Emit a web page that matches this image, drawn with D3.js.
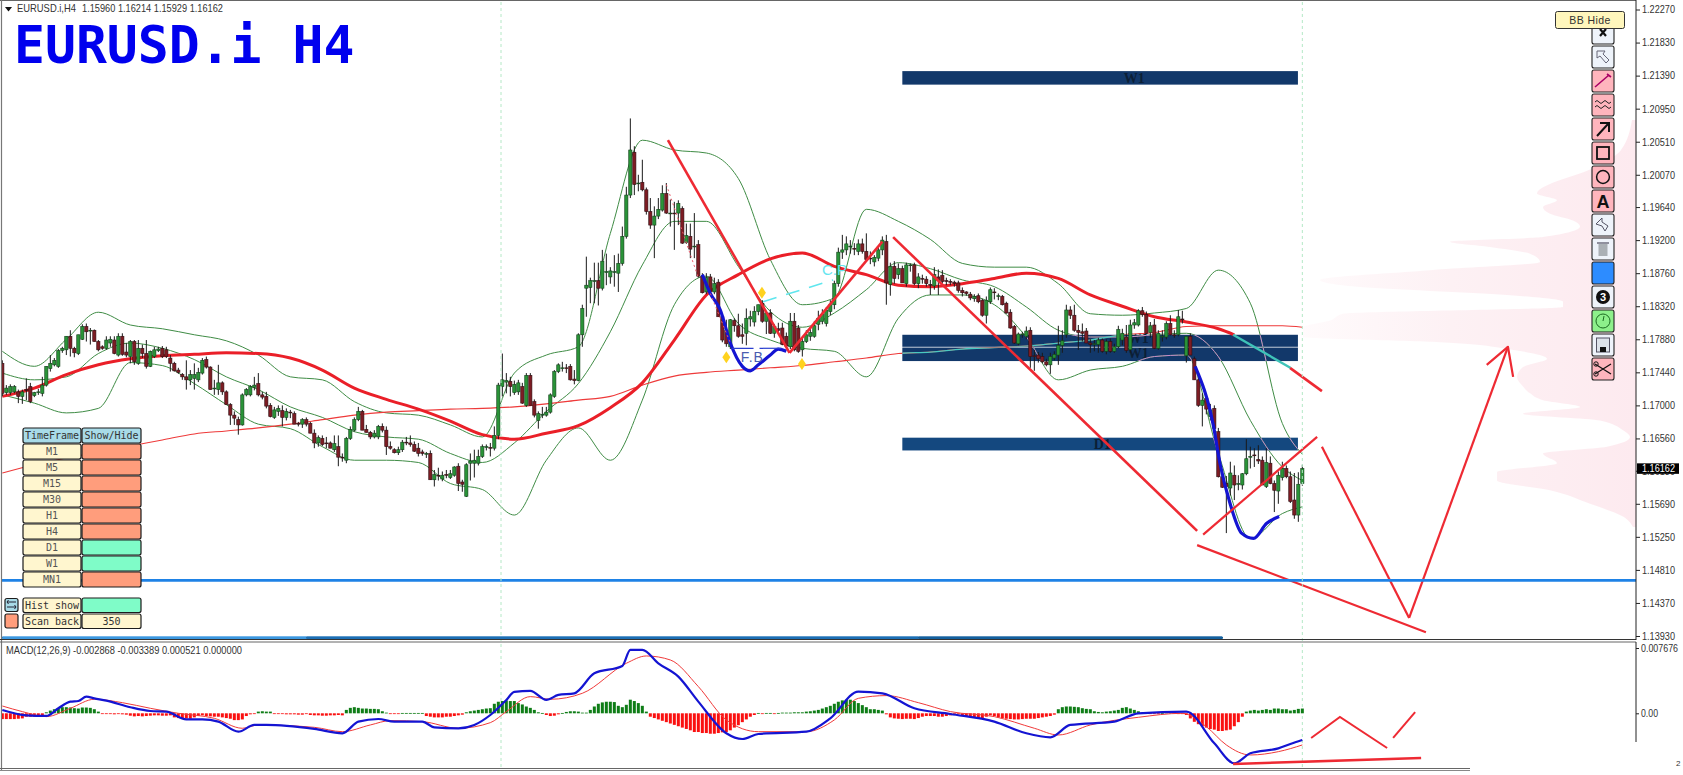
<!DOCTYPE html>
<html><head><meta charset="utf-8">
<script src="https://cdn.jsdelivr.net/npm/d3@7/dist/d3.min.js"></script>
<style>html,body{margin:0;padding:0;background:#fff;overflow:hidden}svg{display:block}</style>
</head><body><div id="c"></div>
<script>
// ---------- candles (price x 10000), bar 0 .. 325 ----------
const opens=[11756,11717,11717,11718,11718,11712,11721,11725,11713,11718,
11716,11727,11749,11754,11752,11773,11774,11792,11776,11769,
11788,11805,11800,11800,11785,11778,11776,11783,11787,11767,
11792,11771,11765,11785,11756,11776,11769,11752,11765,11773,
11776,11774,11763,11756,11747,11741,11738,11734,11736,11734,
11743,11761,11751,11722,11721,11730,11718,11701,11687,11681,
11674,11714,11714,11724,11729,11714,11712,11700,11684,11692,
11693,11684,11691,11689,11676,11675,11681,11676,11663,11650,
11656,11650,11650,11641,11645,11631,11627,11656,11667,11681,
11692,11668,11664,11658,11658,11672,11667,11645,11641,11637,
11641,11651,11650,11648,11643,11638,11636,11636,11601,11607,
11602,11608,11604,11607,11619,11598,11579,11623,11623,11623,
11632,11644,11644,11643,11660,11725,11731,11732,11717,11718,
11725,11700,11740,11705,11680,11688,11687,11691,11712,11745,
11749,11750,11752,11735,11733,11794,11856,11857,11866,11866,
11856,11878,11871,11878,11876,11889,11925,11980,12037,11995,
11997,11987,11958,11940,11952,11960,11982,11956,11956,11956,
11962,11917,11925,11911,11914,11872,11851,11871,11851,11864,
11818,11800,11778,11813,11806,11794,11796,11815,11811,11825,
11836,11812,11823,11796,11802,11803,11792,11778,11812,11803,
11774,11785,11792,11792,11808,11812,11809,11825,11834,11862,
11904,11907,11912,11909,11905,11915,11905,11896,11891,11896,
11907,11918,11861,11885,11874,11882,11862,11887,11887,11862,
11869,11868,11861,11859,11871,11873,11866,11865,11864,11863,
11853,11851,11848,11842,11846,11840,11820,11838,11851,11845,
11845,11836,11824,11805,11782,11795,11792,11800,11766,11767,
11765,11758,11754,11763,11767,11780,11794,11827,11820,11800,
11798,11799,11783,11782,11781,11787,11772,11785,11772,11778,
11787,11791,11774,11807,11807,11826,11821,11797,11807,11776,
11791,11791,11809,11794,11794,11815,11766,11792,11762,11734,
11700,11709,11685,11696,11665,11605,11596,11590,11607,11595,
11594,11609,11632,11634,11628,11627,11592,11623,11596,11586,
11604,11616,11605,11574,11554,11596];
const highs=[11760,11727,11728,11727,11721,11721,11736,11730,11718,11722,
11738,11752,11767,11763,11775,11778,11792,11800,11778,11794,
11808,11809,11803,11801,11787,11780,11792,11792,11792,11796,
11796,11783,11787,11787,11787,11781,11787,11773,11778,11778,
11779,11778,11767,11758,11750,11743,11760,11747,11756,11750,
11763,11765,11752,11734,11754,11732,11720,11703,11692,11685,
11716,11723,11727,11738,11743,11718,11718,11703,11698,11700,
11700,11696,11694,11692,11678,11683,11684,11678,11668,11660,
11660,11658,11652,11660,11660,11636,11658,11672,11684,11698,
11694,11674,11666,11667,11674,11676,11672,11652,11643,11645,
11654,11658,11660,11652,11650,11641,11638,11640,11614,11617,
11612,11614,11614,11619,11623,11601,11623,11636,11641,11641,
11648,11648,11650,11672,11730,11769,11743,11738,11733,11734,
11730,11743,11743,11708,11692,11698,11698,11716,11747,11756,
11758,11755,11755,11747,11796,11834,11898,11870,11890,11890,
11907,11902,11884,11900,11902,11938,11991,12082,12045,12007,
12027,11990,11976,11965,11976,11993,11996,11974,11971,11973,
11965,11942,11942,11956,11920,11876,11876,11875,11870,11868,
11822,11814,11815,11816,11822,11809,11829,11826,11832,11834,
11840,11825,11828,11808,11810,11810,11797,11823,11823,11807,
11790,11800,11802,11812,11826,11828,11831,11840,11866,11910,
11927,11925,11920,11916,11921,11922,11929,11905,11900,11912,
11925,11927,11890,11892,11889,11886,11890,11889,11890,11876,
11874,11872,11867,11884,11881,11880,11870,11868,11866,11866,
11857,11852,11851,11848,11849,11842,11845,11857,11856,11849,
11847,11838,11828,11807,11797,11798,11805,11804,11774,11771,
11770,11762,11770,11772,11806,11800,11834,11832,11834,11807,
11809,11803,11788,11787,11790,11789,11788,11789,11782,11806,
11802,11807,11814,11815,11828,11831,11825,11811,11815,11800,
11800,11812,11820,11800,11827,11826,11792,11796,11765,11738,
11716,11712,11702,11700,11670,11605,11606,11625,11620,11607,
11610,11655,11645,11643,11647,11632,11643,11632,11600,11612,
11625,11620,11612,11610,11611,11621];
const lows=[11712,11714,11714,11716,11703,11702,11707,11703,11711,11714,
11712,11725,11745,11752,11750,11770,11767,11765,11764,11767,
11787,11785,11781,11785,11772,11774,11774,11778,11768,11765,
11766,11764,11756,11754,11754,11763,11749,11751,11763,11771,
11763,11763,11745,11745,11742,11734,11721,11727,11721,11731,
11741,11749,11721,11714,11714,11714,11701,11674,11674,11661,
11673,11712,11712,11720,11712,11708,11696,11684,11682,11686,
11672,11680,11683,11675,11672,11670,11672,11663,11643,11645,
11646,11643,11643,11638,11619,11625,11623,11654,11665,11679,
11667,11664,11655,11656,11655,11664,11634,11641,11636,11634,
11638,11647,11645,11638,11632,11633,11630,11601,11592,11600,
11599,11603,11602,11605,11586,11585,11578,11600,11604,11620,
11630,11640,11632,11640,11655,11712,11716,11712,11714,11714,
11702,11698,11700,11684,11669,11683,11685,11689,11710,11743,
11745,11743,11733,11728,11732,11778,11818,11836,11836,11833,
11853,11860,11862,11858,11851,11886,11922,11976,11980,11985,
11985,11954,11935,11896,11948,11958,11955,11938,11907,11940,
11915,11915,11896,11896,11870,11849,11848,11851,11848,11818,
11784,11778,11775,11798,11790,11782,11780,11805,11805,11820,
11810,11795,11795,11790,11796,11780,11778,11775,11772,11770,
11765,11783,11786,11790,11800,11808,11805,11820,11828,11858,
11895,11900,11902,11900,11900,11902,11892,11888,11885,11892,
11900,11834,11846,11862,11868,11863,11858,11878,11860,11856,
11862,11858,11847,11854,11847,11862,11860,11860,11858,11850,
11845,11846,11840,11838,11836,11818,11809,11835,11841,11840,
11833,11822,11802,11782,11780,11790,11788,11750,11746,11757,
11756,11752,11742,11760,11754,11770,11790,11815,11798,11774,
11785,11783,11770,11772,11770,11770,11768,11770,11770,11776,
11780,11770,11770,11802,11805,11818,11795,11790,11775,11774,
11785,11788,11793,11790,11792,11809,11757,11767,11734,11698,
11672,11688,11680,11669,11604,11590,11530,11580,11574,11587,
11588,11607,11616,11618,11622,11594,11590,11595,11558,11569,
11600,11603,11570,11549,11545,11593];
const closes=[11716,11723,11725,11725,11712,11718,11720,11705,11717,11718,
11727,11752,11756,11760,11773,11776,11792,11776,11770,11794,
11805,11798,11800,11785,11774,11776,11787,11788,11769,11792,
11768,11767,11785,11758,11776,11769,11752,11772,11774,11775,
11765,11765,11756,11746,11744,11738,11734,11741,11741,11744,
11760,11751,11721,11723,11730,11718,11701,11687,11683,11674,
11714,11721,11725,11727,11714,11711,11699,11685,11694,11696,
11684,11692,11690,11675,11675,11681,11675,11663,11650,11657,
11648,11649,11643,11649,11631,11630,11656,11668,11681,11692,
11667,11664,11658,11663,11672,11667,11645,11643,11637,11641,
11651,11650,11648,11639,11636,11636,11636,11601,11608,11606,
11607,11607,11609,11618,11596,11595,11621,11626,11627,11632,
11645,11645,11643,11660,11727,11734,11733,11725,11728,11730,
11703,11740,11700,11687,11689,11688,11691,11714,11745,11754,
11750,11749,11734,11733,11794,11829,11860,11866,11866,11856,
11892,11878,11879,11878,11889,11925,11980,12040,11994,11996,
11987,11958,11940,11952,11961,11982,11956,11956,11955,11969,
11916,11926,11908,11912,11872,11850,11870,11852,11862,11818,
11787,11782,11814,11806,11792,11792,11816,11818,11825,11834,
11812,11823,11796,11805,11800,11781,11779,11812,11774,11772,
11785,11794,11797,11806,11816,11821,11827,11834,11862,11904,
11907,11915,11912,11908,11915,11905,11894,11895,11897,11907,
11920,11863,11885,11869,11882,11863,11887,11887,11862,11871,
11868,11862,11860,11874,11866,11865,11865,11864,11862,11853,
11850,11849,11843,11845,11838,11820,11840,11854,11850,11846,
11834,11823,11803,11783,11795,11795,11799,11765,11765,11762,
11758,11754,11765,11768,11780,11786,11827,11820,11800,11797,
11796,11783,11781,11782,11787,11772,11785,11772,11778,11801,
11796,11773,11807,11810,11826,11821,11796,11806,11776,11796,
11792,11809,11794,11793,11818,11814,11792,11767,11734,11700,
11707,11695,11694,11669,11605,11591,11592,11610,11594,11596,
11609,11629,11632,11633,11626,11594,11624,11596,11587,11607,
11616,11605,11572,11554,11595,11616];

// ---------- indicator readings, at bars 0,8,16,...,320 then last ----------
const sampleBars=[0,8,16,24,32,40,48,56,64,72,80,88,96,104,112,120,128,136,144,152,160,168,176,184,192,200,208,216,224,232,240,248,256,264,272,280,288,296,304,312,320,325];
const bbUpper=[11772,11752,11788,11824,11807,11802,11794,11786,11767,11738,11734,11705,11690,11687,11674,11658,11743,11767,11778,11929,12053,12040,12036,12002,11894,11834,11843,11961,11945,11921,11889,11884,11884,11862,11822,11820,11823,11829,11880,11836,11676,11635];
const bbMiddle=[11743,11734,11738,11769,11783,11776,11761,11738,11721,11698,11684,11665,11658,11655,11636,11624,11650,11692,11729,11798,11887,11945,11945,11885,11825,11804,11823,11854,11890,11882,11867,11858,11831,11800,11791,11791,11794,11796,11765,11680,11618,11600];
const bbLower=[11714,11703,11690,11696,11757,11753,11729,11701,11675,11669,11645,11627,11627,11624,11596,11588,11554,11627,11670,11627,11707,11834,11872,11809,11787,11776,11772,11738,11816,11847,11847,11834,11791,11734,11747,11752,11765,11767,11636,11523,11556,11565];
const slowMA=[11610,11621,11630,11638,11646,11654,11662,11666,11670,11675,11681,11687,11691,11693,11695,11696,11698,11702,11707,11712,11727,11739,11744,11747,11750,11753,11758,11763,11769,11771,11775,11777,11779,11783,11787,11794,11797,11805,11806,11806,11806,11804];
const fastMABars=[0,8,16,24,32,40,48,56,64,72,80,88,96,104,112,120,128,136,144,152,160,168,176,184,192,200,208,216,224,232,240,248,256,264,272,280,288,296,304,308];
const fastMA=[11712,11723,11741,11754,11762,11766,11768,11770,11769,11763,11747,11723,11708,11695,11679,11661,11655,11663,11673,11697,11730,11787,11847,11874,11895,11903,11885,11874,11860,11858,11862,11869,11876,11869,11847,11832,11818,11811,11802,11794];

// ---------- thick blue highlights on the lower band: [bar, price] ----------
const blueDipA=[[175,11874],[177,11849],[179.5,11827],[182,11783],[185,11752],[187,11746],[189,11754],[192,11767],[194,11775],[196,11772]];
const blueDipB=[[298.2,11752],[302.8,11672],[304.4,11623],[306.9,11570],[309.8,11530],[312.8,11523],[316.1,11543],[319.2,11552]];

// ---------- supply / demand zones ----------
const zoneBars=[225,323.9];
const zoneW1Top=[12145,12127];
const zoneW1Mid=[11794,11778];
const zoneW1Low=[11777,11759];
const zoneD1=[11657,11640];

// ---------- hand-drawn objects: [bar, price] ----------
const trendDown=[[166.4,12053],[196.8,11770]];
const trendUp=[[196.8,11770],[220,11918]];
const wedgeTop=[[222.7,11924],[298.7,11533]];
const wedgeLow=[[298.7,11514],[355.9,11398]];
const channel=[[300.2,11528],[328.7,11658]];
const projDown=[[329.9,11645],[351.7,11417]];
const projUp=[[351.7,11417],[376.4,11778]];
const arrowHead=[[371.1,11754],[376.4,11778],[377.7,11738]];
const fastTail=[[321.9,11750],[329.9,11719]];
const tealSeg=[[307.7,11794],[322,11750]];
const cpDash=[[190.2,11838],[207.7,11867]];
const fbDash=[[182.3,11776],[196,11776]];
const dotA=[[166,11994],[174,11870]];
const dotB=[[177,11849],[182,11783]];
const diamonds=[[181,11764],[189.9,11850],[199.9,11755]];
const supportLevel=11467;
const scanStrip=[[0,76,"#3c98e0"],[76,229,"#1c6fb5"],[229,305,"#14609e"]];

// ---------- volume profile at the right: [price, depth] ----------
const profileLevels=[12080,12040,12020,11982,11973,11964,11955,11946,11938,11924,11918,11911,11902,11891,11880,11867,11858,11847,11838,11831,11822,11813,11804,11791,11784,11773,11762,11751,11738,11725,11716,11707,11698,11689,11680,11667,11658,11645,11636,11623,11611,11600,11587,11569,11552,11538];
const profileDepth=[4,15,36,99,79,93,86,63,56,93,186,146,106,96,206,316,279,129,73,73,293,306,333,333,196,119,89,113,119,113,106,93,56,113,36,13,6,29,93,79,139,139,86,46,13,3];

// ---------- price axis ----------
const priceTicks=[12227,12183,12139,12095,12051,12007,11964,11920,11876,11832,11788,11744,11700,11656,11613,11569,11525,11481,11437,11393];
const lastPrice=11616.2;
const headerLeft="EURUSD.i,H4";
const headerValues="1.15960 1.16214 1.15929 1.16162";
const titleText="EURUSD.i H4";
const macdTitle="MACD(12,26,9) -0.002868 -0.003389 0.000521 0.000000";
const macdTickTop=7.676;

// ---------- MACD (x 0.001): [bar, value] ----------
const macdLine=[[0,.39],[6,-.24],[11,-.31],[14,.59],[17,1.37],[19,1.45],[21,1.96],[23,1.76],[26,1.49],[32,.71],[37,.27],[41,.2],[46,-.71],[50,-.71],[54,-.98],[59,-2.16],[63,-1.37],[66,-1.37],[78,-1.84],[85,-2.35],[89,-.98],[94,-.67],[98,-.98],[105,-.98],[108,-1.65],[114,-1.76],[118,-1.37],[122,-.2],[126,1.57],[128,2.51],[132,2.63],[136,1.57],[139,2.16],[143,2.35],[148,4.7],[155,5.57],[157,7.45],[160,7.45],[164,5.88],[169,4.31],[174,1.37],[181,-2.35],[185,-3.02],[189,-2.43],[201,-2.16],[207,-.59],[214,2.55],[220,2.35],[228,.59],[237,-.08],[248,-.98],[256,-2.35],[262,-2.82],[267,-1.37],[278,-.98],[284,0],[296,.2],[303,-3.53],[308,-5.88],[312,-4.7],[319,-4.12],[322,-3.61],[325,-3.14]];
const macdSignal=[[0,.86],[5,.2],[11,-.39],[17,.59],[23,1.65],[30,1.25],[37,.59],[44,0],[53,-.59],[60,-1.76],[64,-1.37],[78,-1.65],[85,-2.16],[92,-1.37],[97,-.86],[105,-.98],[114,-1.76],[122,-1.1],[126,.2],[132,1.96],[137,1.65],[145,2.35],[156,5.88],[161,6.74],[167,6.27],[174,3.14],[181,-.78],[189,-2.16],[201,-2.16],[208,-.78],[214,1.76],[221,2.08],[229,1.25],[237,.2],[248,-.39],[258,-1.76],[264,-2.55],[272,-1.37],[284,-.47],[295,0],[301,-1.57],[306,-3.72],[312,-4.9],[319,-4.51],[325,-3.72]];
// histogram, one per bar (x 0.00001)
const macdHist=[-68,-68,-68,-68,-64,-60,-40,-40,-40,-32,-32,12,32,48,60,72,72,68,60,56,68,68,64,48,20,-4,-8,-8,-12,-8,-12,
-16,-28,-36,-32,-36,-32,-28,-24,-24,-28,-28,-24,-48,-56,-60,-60,-64,-48,-32,-24,-32,-36,-40,-40,-48,-56,-64,-80,-80,-72,-32,-12,-4,20,24,20,20,
-8,-8,-8,-12,-12,-12,-16,-16,-8,-20,-24,-24,-28,-28,-24,-24,-20,-24,40,64,72,64,56,56,52,52,48,24,8,-8,-8,-4,4,4,4,4,4,4,
-32,-40,-48,-48,-48,-40,-40,-32,-24,-16,12,24,32,40,48,56,60,112,136,144,152,144,144,120,104,80,64,40,12,4,-20,-32,-28,-12,4,16,24,24,20,8,8,
40,80,112,128,136,136,132,88,72,100,160,144,120,88,20,-40,-56,-72,-88,-104,-120,-136,-152,-168,-184,-200,-220,
-220,-232,-232,-240,-240,-232,-224,-220,-200,-168,-140,-104,-72,-40,-20,4,-4,4,4,-4,4,8,8,8,12,12,12,20,24,32,40,56,72,
88,112,136,152,160,160,144,120,96,72,48,48,40,32,-12,-48,-60,-64,-68,-64,-64,-68,-56,-40,-32,-32,-32,-40,-40,-32,-24,-16,
-12,-24,-32,-40,-48,-56,-64,-40,-24,-32,-48,-56,-64,-68,-72,-72,-68,-64,-64,-64,-56,-48,-40,-32,-16,48,72,80,80,76,72,60,52,48,24,16,12,20,24,
32,40,64,72,56,40,24,8,4,-4,-8,-8,4,12,20,12,-4,-4,-20,-60,-100,-128,-152,-168,-184,-192,-208,-208,-200,-192,-152,-104,-40,
20,32,40,32,40,48,40,56,56,48,48,32,40,52,56];
const macdFlat=[[307.7,-5.96],[354.7,-5.25]];
const macdRise=[[327.2,-2.9],[334.4,-.43],[346.2,-4.08]];
const macdRise2=[[347.7,-2.9],[353.2,.15]];

// ---------- panel widgets ----------
const timeFrames=["M1","M5","M15","M30","H1","H4","D1","W1","MN1"];
const timeFrameOn=[0,0,0,0,0,0,1,1,0];
const toolTips=["x","arrow","pen","wave","up","rect","circle","A","undo","trash","color","three","clock","save","cut"];
const toolFill=["#eef3fa","#eef3fa","#ffb5bd","#ffb5bd","#ffb5bd","#ffb5bd","#ffb5bd","#ffb5bd","#eef3fa","#eef3fa","#2d8cff","#eef3fa","#8df08b","#eef3fa","#ffb5bd"];

// ---------- drawing ----------
const W=1683,H=775,axisX=1636;
const svg=d3.select("#c").append("svg").attr("width",W).attr("height",H);
const sans='"Liberation Sans",Arial,sans-serif', mono='"DejaVu Sans Mono",monospace';
const x=d3.scaleLinear().domain([0,325]).range([2.33,1302.33]);
const y=d3.scaleLinear().domain([12237,11389]).range([2,639]);
const my=d3.scaleLinear().domain([macdTickTop,-6.5]).range([648,768.6]);

const defs=svg.append("defs");
defs.append("clipPath").attr("id","mainClip").append("rect").attr("x",2).attr("y",2).attr("width",axisX-2).attr("height",636);
defs.append("clipPath").attr("id","macdClip").append("rect").attr("x",2).attr("y",643).attr("width",axisX-2).attr("height",125);
const zoneClip=defs.append("clipPath").attr("id","zoneClip");
[zoneW1Mid,zoneW1Low,zoneD1].forEach(z=>zoneClip.append("rect").attr("x",x(zoneBars[0])).attr("width",x(zoneBars[1])-x(zoneBars[0])).attr("y",y(z[0])).attr("height",y(z[1])-y(z[0])));
const grad=defs.append("linearGradient").attr("id","prof").attr("gradientUnits","userSpaceOnUse").attr("x1",1300).attr("x2",1636).attr("y1",0).attr("y2",0);
grad.append("stop").attr("offset",0).attr("stop-color","#fffbfc");
grad.append("stop").attr("offset",.45).attr("stop-color","#fdf1f4");
grad.append("stop").attr("offset",1).attr("stop-color","#fdeaef");

const main=svg.append("g").attr("clip-path","url(#mainClip)");
// profile
const profile=profileLevels.map((p,i)=>[p,profileDepth[i]]);
main.append("path").datum(profile).attr("fill","url(#prof)")
 .attr("d",d3.area().curve(d3.curveMonotoneY).y(d=>y(d[0])).x0(axisX).x1(d=>axisX-d[1]));

// verticals
[501,x(325)].forEach(vx=>{
 svg.append("line").attr("x1",vx).attr("x2",vx).attr("y1",2).attr("y2",770).attr("stroke","#b4e8c6").attr("stroke-width",1).attr("stroke-dasharray","3,3");
});

// zones
const zones=[[zoneW1Top,"#12386a"],[zoneW1Mid,"#12386a"],[zoneW1Low,"#12386a"],[zoneD1,"#14487f"]];
main.selectAll("rect.z").data(zones).join("rect").attr("class","z")
 .attr("x",x(zoneBars[0])).attr("width",x(zoneBars[1])-x(zoneBars[0]))
 .attr("y",d=>y(d[0][0])).attr("height",d=>y(d[0][1])-y(d[0][0])).attr("fill",d=>d[1]);
const zl=[["W1",283,12136],["W1",284,11790],["W1",284,11770],["D1",275,11648]];
main.selectAll("text.z").data(zl).join("text").attr("class","z").attr("x",d=>x(d[1])).attr("y",d=>y(d[2])).attr("dy","0.35em")
 .attr("text-anchor","middle").attr("font-family",'"Liberation Serif",serif').attr("font-weight","bold").attr("font-size",14).attr("fill","#0c1f36").text(d=>d[0]);

// lines
const byBars=(bars,vals)=>vals.map((v,i)=>[bars[i],v]);
const lineP=d3.line().curve(d3.curveMonotoneX).x(d=>x(d[0])).y(d=>y(d[1]));
const straight=d3.line().x(d=>x(d[0])).y(d=>y(d[1]));
const band=(vals,col,w,par)=>(par||main).append("path").datum(vals).attr("fill","none").attr("stroke",col).attr("stroke-width",w).attr("stroke-linejoin","round").attr("d",lineP);
[bbUpper,bbMiddle,bbLower].forEach(v=>band(byBars(sampleBars,v),"#3f8c45",1));
band(byBars(sampleBars,slowMA),"#ee3a3a",1.1);
const zoneOver=main.append("g").attr("clip-path","url(#zoneClip)");
[bbUpper,bbMiddle,bbLower].forEach(v=>band(byBars(sampleBars,v),"#c98ad0",1,zoneOver));
band(byBars(sampleBars,slowMA),"#49c9c0",1.3,zoneOver);
band(byBars(fastMABars,fastMA),"#ea1f28",3);

// candles
const bars=opens.map((o,i)=>({i,o,h:highs[i],l:lows[i],c:closes[i]}));
const cg=main.selectAll("g.c").data(bars).join("g").attr("class","c");
cg.append("line").attr("x1",d=>x(d.i)).attr("x2",d=>x(d.i)).attr("y1",d=>y(d.h)).attr("y2",d=>y(d.l)).attr("stroke","#1a1a1a").attr("stroke-width",1);
cg.append("rect").attr("x",d=>x(d.i)-1.6).attr("width",3.2)
 .attr("y",d=>y(Math.max(d.o,d.c))).attr("height",d=>Math.max(.8,Math.abs(y(d.o)-y(d.c))))
 .attr("fill",d=>d.c>=d.o?"#2a9338":"#7d1c23").attr("stroke",d=>d.c>=d.o?"#12401a":"#2e0e12").attr("stroke-width",.6);

// blue highlights
band(blueDipA,"#1414d2",3.2); band(blueDipB,"#1414d2",3.2);

// objects
const red="#ee2a33";
const seg=(pts,col,w,dash)=>main.append("path").datum(pts).attr("fill","none").attr("stroke",col).attr("stroke-width",w).attr("stroke-dasharray",dash||null).attr("stroke-linejoin","round").attr("d",straight);
[trendDown,trendUp,wedgeTop,fastTail].forEach(p=>seg(p,red,2.6));
[wedgeLow,channel,projDown,projUp,arrowHead].forEach(p=>seg(p,red,2.2));
seg(tealSeg,"#3fc3b8",2.4);
seg(cpDash,"#5fe6ee",1.5,"14,10");
seg(fbDash,"#2a3fd0",1.2,"22,6");
seg(dotA,"#e85a6a",1,"2,3"); seg(dotB,"#e85a6a",1,"2,3");
main.append("text").attr("x",x(204.9)).attr("y",y(11874)).attr("font-family",sans).attr("font-size",15).attr("fill","#66e6f0").text("C.P");
main.append("text").attr("x",x(187.5)).attr("y",y(11758)).attr("text-anchor","middle").attr("font-family",sans).attr("font-size",14).attr("letter-spacing",1).attr("fill","#4a5cb0").text("F.B");
main.selectAll("path.dm").data(diamonds).join("path").attr("class","dm").attr("fill","#ffd21e")
 .attr("d",d=>{const a=x(d[0]),b=y(d[1]);return `M${a},${b-6}L${a+4},${b}L${a},${b+6}L${a-4},${b}Z`;});

// support level
main.append("line").attr("x1",0).attr("x2",axisX).attr("y1",y(supportLevel)).attr("y2",y(supportLevel)).attr("stroke","#1e82e6").attr("stroke-width",2.6);
// scan strip along the panel bottom
svg.append("rect").attr("x",2).attr("y",637).attr("width",1221).attr("height",1.6).attr("fill","#14609e");
scanStrip.forEach(s=>svg.append("rect").attr("x",x(s[0])).attr("y",636.3).attr("width",x(s[1])-x(s[0])).attr("height",2.8).attr("fill",s[2]));

// frame
svg.append("line").attr("x1",0).attr("x2",axisX).attr("y1",.5).attr("y2",.5).attr("stroke","#666");
svg.append("line").attr("x1",1.5).attr("x2",1.5).attr("y1",0).attr("y2",770).attr("stroke","#777").attr("stroke-width",1.2);
svg.append("line").attr("x1",0).attr("x2",axisX).attr("y1",639.5).attr("y2",639.5).attr("stroke","#333");
svg.append("line").attr("x1",0).attr("x2",axisX).attr("y1",642).attr("y2",642).attr("stroke","#666");
svg.append("line").attr("x1",axisX).attr("x2",axisX).attr("y1",0).attr("y2",640).attr("stroke","#222");
svg.append("line").attr("x1",axisX).attr("x2",axisX).attr("y1",642).attr("y2",742).attr("stroke","#222");
svg.append("line").attr("x1",0).attr("x2",1470).attr("y1",768.5).attr("y2",768.5).attr("stroke","#666");
svg.append("line").attr("x1",0).attr("x2",1470).attr("y1",770.5).attr("y2",770.5).attr("stroke","#888");

// price axis
const ax=svg.append("g").attr("transform",`translate(${axisX},0)`)
 .call(d3.axisRight(y).tickValues(priceTicks).tickSize(4).tickPadding(2).tickFormat(d=>(d/10000).toFixed(5)));
ax.select(".domain").remove();
ax.selectAll("line").attr("stroke","#222");
ax.selectAll("text").attr("font-family",sans).attr("font-size",10.5).attr("fill","#333").attr("textLength",33).attr("lengthAdjust","spacingAndGlyphs");
svg.append("rect").attr("x",axisX+1).attr("y",y(lastPrice)-5).attr("width",42).attr("height",10.5).attr("fill","#000");
svg.append("text").attr("x",axisX+6).attr("y",y(lastPrice)+4).attr("font-family",sans).attr("font-size",10.5).attr("fill","#fff").attr("textLength",33).attr("lengthAdjust","spacingAndGlyphs").text((lastPrice/10000).toFixed(5));

// header + title
svg.append("path").attr("d","M5,7L12,7L8.5,11.5Z").attr("fill","#111");
svg.append("text").attr("x",17).attr("y",12).attr("font-family",sans).attr("font-size",10.5).attr("fill","#333").attr("textLength",59).attr("lengthAdjust","spacingAndGlyphs").text(headerLeft);
svg.append("text").attr("x",82).attr("y",12).attr("font-family",sans).attr("font-size",10.5).attr("fill","#333").attr("textLength",141).attr("lengthAdjust","spacingAndGlyphs").text(headerValues);
svg.append("text").attr("x",14).attr("y",63).attr("font-family",mono).attr("font-weight","bold").attr("font-size",51.4).attr("fill","#0000ee").text(titleText);

// MACD
const macd=svg.append("g").attr("clip-path","url(#macdClip)");
macd.selectAll("rect").data(macdHist).join("rect").attr("x",(d,i)=>x(i)-1.5).attr("width",3)
 .attr("y",d=>my(Math.max(d/100,0))).attr("height",d=>Math.max(.8,Math.abs(my(d/100)-my(0))))
 .attr("fill",d=>d>=0?"#0f7d17":"#fa1010");
const lineM=d3.line().curve(d3.curveMonotoneX).x(d=>x(d[0])).y(d=>my(d[1]));
const lineS=d3.line().x(d=>x(d[0])).y(d=>my(d[1]));
macd.append("path").datum(macdSignal).attr("fill","none").attr("stroke","#f03a3a").attr("stroke-width",1).attr("d",lineM);
macd.append("path").datum(macdLine).attr("fill","none").attr("stroke","#1414d2").attr("stroke-width",2.2).attr("d",lineM);
[macdFlat,macdRise,macdRise2].forEach(p=>macd.append("path").datum(p).attr("fill","none").attr("stroke",red).attr("stroke-width",p===macdFlat?2.6:2).attr("d",lineS));
svg.append("text").attr("x",6).attr("y",654).attr("font-family",sans).attr("font-size",10.5).attr("fill","#333").attr("textLength",236).attr("lengthAdjust","spacingAndGlyphs").text(macdTitle);
const max=svg.append("g").attr("transform",`translate(${axisX},0)`)
 .call(d3.axisRight(my).tickValues([macdTickTop,0]).tickSize(3).tickPadding(2).tickFormat(d=>d===0?"0.00":"0.007676"));
max.select(".domain").remove();
max.selectAll("line").attr("stroke","#222");
max.selectAll("text").attr("font-family",sans).attr("font-size",10).attr("fill","#333").attr("textLength",d=>d===0?17:37).attr("lengthAdjust","spacingAndGlyphs");
svg.append("text").attr("x",1676).attr("y",766).attr("font-family",sans).attr("font-size",8).attr("fill","#333").text("2");

// timeframe table
const tb=svg.append("g");
const cell=(xx,yy,w,h,fill,label,col)=>{
 tb.append("rect").attr("x",xx+.5).attr("y",yy+.5).attr("width",w-1).attr("height",h-1).attr("rx",2).attr("fill",fill).attr("stroke","#1c1c1c").attr("stroke-width",1.2);
 if(label) tb.append("text").attr("x",xx+w/2).attr("y",yy+h/2+3.6).attr("text-anchor","middle").attr("font-family",mono).attr("font-size",10).attr("fill",col||"#555").text(label);
};
const cream="#fff6cf",orange="#ff9d7c",mint="#7ffcc8";
cell(22.5,427.5,59,16,"#a8dbe8","TimeFrame","#333");
cell(81.5,427.5,60,16,"#a8dbe8","Show/Hide","#333");
timeFrames.forEach((t,i)=>{
 const ry=443.5+i*16;
 cell(22.5,ry,59,16,cream,t);
 cell(81.5,ry,60,16,timeFrameOn[i]?mint:orange,"");
});
cell(22.5,597.5,59,15.5,cream,"Hist show","#333");
cell(81.5,597.5,60,15.5,mint,"");
cell(22.5,613.5,59,15.5,cream,"Scan back","#333");
cell(81.5,613.5,60,15.5,cream,"350","#333");
cell(4.5,598,14,14,"#a8dbe8","");
cell(4.5,613.5,14,15,orange,"");
tb.append("path").attr("d","M7,602L16,602M8.5,600L7,602L8.5,604M7,607L16,607M14.5,605L16,607L14.5,609").attr("fill","none").attr("stroke","#223").attr("stroke-width",1);

// toolbar
const tbar=svg.append("g");
const bx=1592,bw=22;
toolTips.forEach((t,i)=>{
 const by=i==0?22:46+(i-1)*24, bh=22;
 tbar.append("rect").attr("x",bx).attr("y",by).attr("width",bw).attr("height",bh).attr("rx",2).attr("fill",toolFill[i]).attr("stroke","#222").attr("stroke-width",1.1);
 const g=tbar.append("g").attr("transform",`translate(${bx+bw/2},${by+bh/2})`);
 const st=(d,c,w)=>g.append("path").attr("d",d).attr("fill","none").attr("stroke",c||"#111").attr("stroke-width",w||1.6);
 if(t=="x") st("M-3,-4L3,3M3,-4L-3,3","#111",2.2);
 if(t=="arrow") st("M-6,-6L-6,1L-3,-1L3,6L6,3L0,-3L2,-6Z","#667",1);
 if(t=="pen") st("M-8,6L6,-6M4,-7L8,-4","#a06",1.6);
 if(t=="wave"){st("M-8,-3q2,-3 4,0t4,0t4,0t4,0","#222",1);st("M-8,2q2,-3 4,0t4,0t4,0t4,0","#222",1);}
 if(t=="up") st("M-6,7L5,-5M-3,-6L6,-6L6,3","#111",2);
 if(t=="rect") g.append("rect").attr("x",-6).attr("y",-6).attr("width",12).attr("height",12).attr("fill","none").attr("stroke","#111").attr("stroke-width",1.8);
 if(t=="circle") g.append("circle").attr("r",6.4).attr("fill","none").attr("stroke","#111").attr("stroke-width",1.5);
 if(t=="A") g.append("text").attr("text-anchor","middle").attr("y",7).attr("font-family",sans).attr("font-weight","bold").attr("font-size",18).attr("fill","#111").text("A");
 if(t=="undo") st("M-7,-1L-1,-7L-1,-3L5,1L2,6L-1,1Z","#556",1);
 if(t=="trash"){g.append("rect").attr("x",-4.5).attr("y",-5).attr("width",9).attr("height",12).attr("fill","#aab0b5");st("M-6,-6L6,-6","#778",1.6);}
 if(t=="three"){g.append("circle").attr("r",7).attr("fill","#111");g.append("text").attr("text-anchor","middle").attr("y",4).attr("font-family",sans).attr("font-weight","bold").attr("font-size",11).attr("fill","#fff").text("3");}
 if(t=="clock"){g.append("circle").attr("r",7).attr("fill","none").attr("stroke","#1b6b20").attr("stroke-width",1);st("M0,0L1,-5","#1b6b20",1);}
 if(t=="save"){g.append("rect").attr("x",-6.5).attr("y",-7).attr("width",13).attr("height",14).attr("fill","#dde3ea").attr("stroke","#556");g.append("rect").attr("x",-3).attr("y",2).attr("width",6).attr("height",5).attr("fill","#111");}
 if(t=="cut"){st("M-8,-5L8,5M-8,5L8,-5","#111",1.3);g.append("circle").attr("cx",-7).attr("cy",-5).attr("r",2.2).attr("fill","none").attr("stroke","#111");g.append("circle").attr("cx",-7).attr("cy",5).attr("r",2.2).attr("fill","none").attr("stroke","#111");}
});
svg.append("rect").attr("x",1555.5).attr("y",11.5).attr("width",69).attr("height",17).attr("rx",2).attr("fill","#fff6bc").attr("stroke","#333");
svg.append("text").attr("x",1590).attr("y",24).attr("text-anchor","middle").attr("font-family",sans).attr("font-size",10.5).attr("letter-spacing",.4).attr("fill","#333").text("BB Hide");
</script></body></html>
